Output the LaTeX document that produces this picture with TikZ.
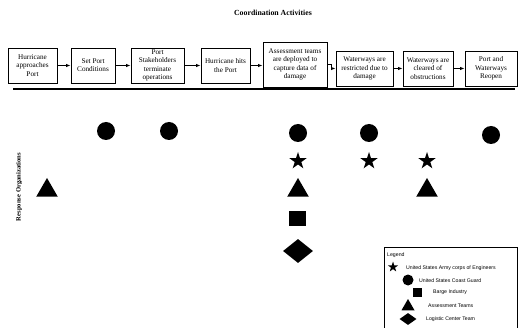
\documentclass[tikz,border=0pt]{standalone}
\usepackage{fontspec}
\setmainfont{Liberation Serif}
\setsansfont{Liberation Sans}
\usetikzlibrary{shapes.geometric,arrows.meta}
\tikzset{
  stepbox/.style={draw=black,line width=0.9pt,fill=white,inner sep=0pt,align=center,
    font=\fontsize{7.2}{8.3}\selectfont},
  arr/.style={line width=0.8pt,-{Latex[length=4.5pt,width=3.5pt]}},
  symcirc/.style={circle,fill=black,inner sep=0pt,minimum size=#1},
  symstar/.style={star,star points=5,star point ratio=2.6,fill=black,inner sep=0pt,minimum size=#1},
  symtri/.style={regular polygon,regular polygon sides=3,fill=black,inner sep=0pt,minimum size=#1},
  symsq/.style={rectangle,fill=black,inner sep=0pt,minimum width=#1,minimum height=#1},
  symdia/.style={diamond,fill=black,inner sep=0pt},
  legtext/.style={anchor=west,inner sep=0pt,font=\sffamily\fontsize{5.2}{6}\selectfont}
}
\begin{document}
\begin{tikzpicture}[x=1pt,y=-1pt]
\useasboundingbox (0,0) rectangle (518,328);
% title
\node[font=\bfseries\fontsize{7.8}{9}\selectfont] (title) at (273,13) {Coordination Activities};
% boxes
\node[stepbox,minimum width=49,minimum height=35] (b1) at (32.5,65.5) {Hurricane\\approaches\\Port};
\node[stepbox,minimum width=44,minimum height=35] (b2) at (93,65.5) {Set Port\\Conditions};
\node[stepbox,minimum width=53,minimum height=35] (b3) at (157.5,65.5) {Port\\Stakeholders\\terminate\\operations};
\node[stepbox,minimum width=49,minimum height=35] (b4) at (225.5,65.5) {Hurricane hits\\the Port};
\node[stepbox,minimum width=64,minimum height=45] (b5) at (295,64.5) {Assessment teams\\are deployed to\\capture data of\\damage};
\node[stepbox,minimum width=57,minimum height=35] (b6) at (364.5,68.5) {Waterways are\\restricted due to\\damage};
\node[stepbox,minimum width=50,minimum height=35] (b7) at (428,68.5) {Waterways are\\cleared of\\obstructions};
\node[stepbox,minimum width=52,minimum height=35] (b8) at (491,68.5) {Port and\\Waterways\\Reopen};
% arrows
\draw[arr] (b1) -- (b2);
\draw[arr] (b2) -- (b3);
\draw[arr] (b3) -- (b4);
\draw[arr] (b4.east) -- (b5.west |- b4.east);
\draw[arr] (b5.east) -- ++(4,0) |- (b6.west);
\draw[arr] (b6) -- (b7);
\draw[arr] (b7) -- (b8);
% thick line
\draw[line width=2.6pt] (13,89) -- (515,89);
% side label
\node[rotate=90,font=\bfseries\fontsize{6.6}{8}\selectfont] (resp) at (19,187) {Response Organizations};
% symbols
\node[symcirc=18] (c1) at (106,131) {};
\node[symcirc=18] (c2) at (169,131) {};
\node[symcirc=18] (c3) at (298,133) {};
\node[symcirc=18] (c4) at (369,133) {};
\node[symcirc=18] (c5) at (491,135) {};
\node[symstar=18] (s1) at (298,161) {};
\node[symstar=18] (s2) at (369,161) {};
\node[symstar=18] (s3) at (427,161) {};
\node[symtri=25] (t1) at (47,190.5) {};
\node[symtri=25] (t2) at (298,190.5) {};
\node[symtri=25] (t3) at (427,190.5) {};
\node[rectangle,fill=black,inner sep=0pt,minimum width=17,minimum height=15] (q1) at (297,219) {};
\node[symdia,minimum width=30,minimum height=24] (d1) at (298,251) {};
% legend
\draw[line width=0.7pt] (384,329) -- (384,247) -- (517,247) -- (517,329);
\node[legtext] (lg) at (387,255) {Legend};
\node[symstar=11] (ls) at (393,267) {};
\node[legtext] (lst) at (406,268) {United States Army corps of Engineers};
\node[symcirc=11] (lc) at (408,280) {};
\node[legtext] (lct) at (419,281) {United States Coast Guard};
\node[symsq=9] (lq) at (417,292) {};
\node[legtext] (lqt) at (433,292) {Barge Industry};
\node[symtri=15] (lt) at (408,306.5) {};
\node[legtext] (ltt) at (428,306) {Assessment Teams};
\node[symdia,minimum width=17,minimum height=12] (ld) at (408,319) {};
\node[legtext] (ldt) at (426,319) {Logistic Center Team};
\end{tikzpicture}
\end{document}
